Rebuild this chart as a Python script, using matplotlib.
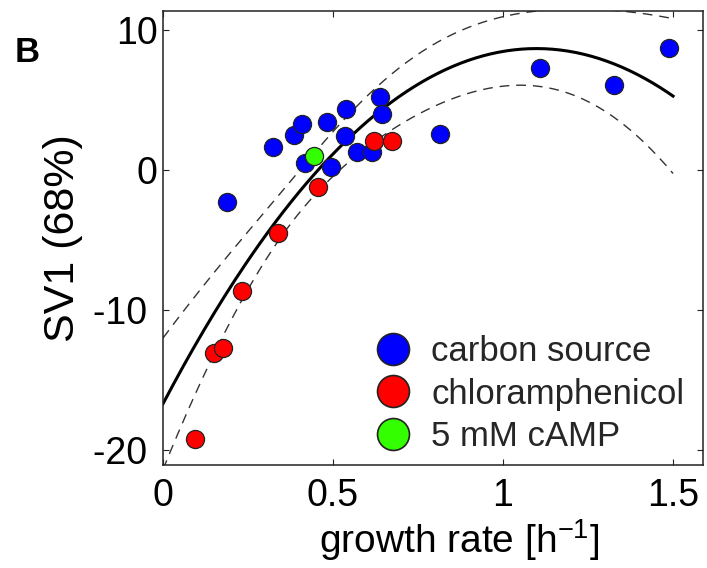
import numpy as np
import matplotlib
matplotlib.use("Agg")
import matplotlib.pyplot as plt
from matplotlib.lines import Line2D

plt.rcParams['font.family'] = ['Liberation Sans', 'DejaVu Sans']
plt.rcParams['mathtext.default'] = 'regular'
plt.rcParams['axes.unicode_minus'] = False

# growth rate [1/h] and SV1 values
carbon_x = [0.187, 0.323, 0.386, 0.408, 0.483, 0.537, 0.638, 0.643, 0.535,
            0.570, 0.614, 0.418, 0.493, 0.815, 1.109, 1.327, 1.489]
carbon_y = [-2.26, 1.67, 2.50, 3.29, 3.40, 4.33, 5.24, 3.98, 2.43,
            1.26, 1.26, 0.48, 0.24, 2.55, 7.26, 6.07, 8.69]
chlor_x = [0.621, 0.674, 0.455, 0.337, 0.231, 0.151, 0.177, 0.094]
chlor_y = [2.07, 2.07, -1.19, -4.48, -8.62, -13.05, -12.69, -19.20]
camp_x = [0.444]
camp_y = [1.00]

labels = ['carbon source', 'chloramphenicol', '5 mM cAMP']
colors = ['#0000ff', '#ff0000', '#33ff00']
xticks = [0, 0.5, 1, 1.5]
xticklabels = ['0', '0.5', '1', '1.5']
yticks = [-20, -10, 0, 10]
yticklabels = ['-20 ', '-10 ', '0', '10']

# quadratic fit over all points with 95% confidence band of the mean
x_all = np.array(carbon_x + chlor_x + camp_x)
y_all = np.array(carbon_y + chlor_y + camp_y)
X = np.vstack([x_all**2, x_all, np.ones_like(x_all)]).T
coef, _, _, _ = np.linalg.lstsq(X, y_all, rcond=None)
dof = len(x_all) - 3
s = np.sqrt(np.sum((y_all - X @ coef)**2) / dof)
t_val = 2.069
cov = np.linalg.inv(X.T @ X)

xf = np.linspace(0, 1.5, 200)
Xf = np.vstack([xf**2, xf, np.ones_like(xf)]).T
yf = Xf @ coef
half = t_val * s * np.sqrt(np.einsum('ij,jk,ik->i', Xf, cov, Xf))

fig = plt.figure(figsize=(7.07, 5.68), dpi=100)
ax = fig.add_axes([0.2306, 0.1813, 0.7637, 0.7993])

ax.plot(xf, yf + half, color='#333333', lw=1.0, dashes=(7, 5))
ax.plot(xf, yf - half, color='#333333', lw=1.0, dashes=(7, 5))
ax.plot(xf, yf, color='black', lw=2.2)

for xs, ys, c in zip([carbon_x, chlor_x, camp_x], [carbon_y, chlor_y, camp_y], colors):
    ax.scatter(xs, ys, s=170, c=c, edgecolors='#222222', linewidths=0.9, zorder=3)

ax.set_xlim(0, 1.588)
ax.set_ylim(-21.07, 11.36)
ax.set_xticks(xticks)
ax.set_xticklabels(xticklabels)
ax.set_yticks(yticks)
ax.set_yticklabels(yticklabels)
ax.tick_params(direction='in', length=4, width=0.8, top=True, right=True,
               labelsize=27, colors='#222222', labelcolor='black')
ax.tick_params(axis='x', pad=9)
ax.tick_params(axis='y', pad=4)
for sp in ax.spines.values():
    sp.set_linewidth(1.1)
    sp.set_color('#222222')

ax.set_xlabel('growth rate [h$^{\\mathregular{-1}}$]', fontsize=28)
ax.xaxis.set_label_coords(0.548, -0.116)
ax.set_ylabel('SV1 (68%)', fontsize=31)
ax.yaxis.set_label_coords(-0.148, 0.5)

handles = [Line2D([], [], ls='none', marker='o', markersize=23, markerfacecolor=c,
                  markeredgecolor='#222222', markeredgewidth=1.2) for c in colors]
ax.legend(handles, labels, loc='lower left', bbox_to_anchor=(0.368, -0.004),
          frameon=False, fontsize=25, handlelength=1.0, handletextpad=0.6,
          labelspacing=0.27, borderaxespad=0, labelcolor='#262626')

fig.text(0.038, 0.908, 'B', fontsize=25, fontweight='bold', ha='center', va='center')

fig.savefig('out.png', dpi=100)
